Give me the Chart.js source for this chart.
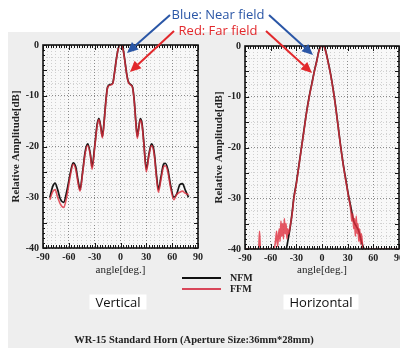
<!DOCTYPE html>
<html>
<head>
<meta charset="utf-8">
<script src="https://cdn.jsdelivr.net/npm/chart.js@4.4.0/dist/chart.umd.min.js"></script>
<style>
html, body { margin: 0; padding: 0; background: #fff; }
#wrap { position: relative; width: 400px; height: 350px; overflow: hidden; background: #fff; }
#scan { position: absolute; left: 8px; top: 32px; width: 392px; height: 316px; background: #eeeeee; }
canvas { position: absolute; }
.note { position: absolute; font-family: 'Open Sans', sans-serif; white-space: nowrap; transform: translate(-50%, -50%); line-height: 1; }
.serif { position: absolute; font-family: 'Liberation Serif', 'DejaVu Serif', serif; font-weight: bold; color: #222; white-space: nowrap; line-height: 1; }
.box { background: #fff; padding: 1px 6px; font-size: 13px; color: #111; }
.key { position: absolute; height: 2px; }
</style>
</head>
<body>
<div id="wrap">
  <div id="scan"></div>
  <canvas id="vert" width="205" height="250" style="left:0px;top:30px"></canvas>
  <canvas id="horz" width="210" height="250" style="left:200px;top:30px"></canvas>

  <div class="key" style="left:182px;top:277px;width:39px;background:#111"></div>
  <div class="key" style="left:182px;top:288px;width:39px;background:#d9475a"></div>
  <div class="serif" style="left:230px;top:273px;font-size:10px">NFM</div>
  <div class="serif" style="left:230px;top:284px;font-size:10px">FFM</div>

  <div class="note box" style="left:118px;top:302px">Vertical</div>
  <div class="note box" style="left:321px;top:302px">Horizontal</div>

  <div class="serif" style="left:194px;top:340px;font-size:10.5px;transform:translate(-50%,-50%)">WR-15 Standard Horn (Aperture Size:36mm*28mm)</div>

  <svg id="arrows" width="400" height="350" style="position:absolute;left:0;top:0"></svg>
  <div class="note" style="left:218px;top:14px;font-size:13px;color:#2a56a6">Blue: Near field</div>
  <div class="note" style="left:218px;top:30px;font-size:13px;color:#e2282c">Red: Far field</div>
</div>

<script>
// vertical cut (left panel)
var vAngles = [-82, -79, -76, -73, -70, -66, -62, -58, -55, -52, -49, -47, -44, -41, -38, -35, -33, -30, -27, -25, -23, -21, -19, -17, -15, -12, -9, -7, -5, -3, -1,
               1, 3, 5, 7, 9, 12, 14, 16, 18, 19.5, 21, 23, 25, 27, 30, 33, 36, 39, 42, 44, 47, 50, 52, 55, 58, 62, 65, 69, 72, 75, 79];
var vNfm = [-30, -28, -27.2, -28.5, -30.3, -31, -28.5, -25, -23.2, -24, -27, -28.5, -25, -21, -19.5, -21.5, -24, -20, -15.5, -14.5, -16, -18, -15, -11, -8.3, -7.8, -7.5, -5.5, -3, -1, 0,
            0, -0.8, -3, -5.5, -7.2, -7.8, -8.3, -11, -15.5, -18, -16.5, -14.5, -15.5, -19, -24.5, -21.5, -19.5, -21, -26, -28.5, -26, -23.5, -23.3, -24.5, -27.5, -30, -29.5, -27.5, -27.3, -28.5, -30];
var vFfm = [-30.5, -29, -28.5, -30, -31.3, -32, -29.5, -25.5, -23.5, -24.5, -27.5, -28.8, -25.3, -21.3, -19.8, -21.8, -24.5, -20.3, -15.8, -14.7, -16.3, -18.3, -15.2, -11.2, -8.4, -7.9, -7.6, -5.6, -3.1, -1, 0,
            0, -0.9, -3.1, -5.6, -7.3, -7.9, -8.4, -11.2, -15.8, -18.4, -16.8, -14.8, -15.8, -19.3, -25, -21.8, -19.8, -21.4, -26.5, -29, -26.5, -24, -23.8, -25, -28, -30.5, -29.5, -29, -28.8, -29.2, -29.5];

// horizontal cut (right panel)
var hNfmAngles = [-46, -42, -40, -37, -35, -33, -30, -27, -24, -21, -18, -15, -12, -9, -6, -4, -2, 0, 2, 4, 7, 10, 13, 16, 19, 22, 25, 28, 31, 34, 37, 40, 43, 46, 49];
var hNfm = [-40, -40, -38.5, -35.5, -33, -30, -27, -23.5, -20, -16.5, -13, -10, -7.5, -5, -2.8, -1.2, -0.2, 0, 0, -0.8, -3, -5.5, -8.5, -12, -16, -20, -23.5, -26.5, -29.5, -32, -34.5, -35.5, -36.5, -38.5, -40];
var hFfmAngles = [-90, -74, -73, -72, -56, -54, -53, -52, -50, -49, -48, -47, -46, -45, -44, -43, -42, -41, -40, -39, -37, -35, -33, -30, -27, -24, -21, -18, -15, -12, -9, -6, -4, -2, 0,
                  2, 4, 7, 10, 13, 16, 19, 22, 25, 28, 31, 33, 34, 35, 36, 37, 38, 39, 40, 41, 42, 43, 44, 45, 46, 48, 90];
var hFfm = [-40, -40, -36.5, -40, -40, -38, -36.5, -39.5, -36, -38.5, -34.5, -37.5, -35, -38, -34, -37, -35, -38, -36, -37, -35.3, -33.2, -30.2, -27.2, -23.6, -20.1, -16.6, -13.1, -10.1, -7.6, -5.1, -2.9, -1.3, -0.2, 0,
            0, -0.9, -3.1, -5.6, -8.6, -12.1, -16.1, -20.1, -23.6, -26.7, -29.7, -31.5, -33, -34.5, -33, -36, -34, -37.5, -33.5, -37, -35, -38.5, -36, -39, -37, -40, -40];

var xLabels = [-90, -60, -30, 0, 30, 60, 90];
var yLabels = [0, -10, -20, -30, -40];

function pts(xs, ys) {
	return xs.map(function(x, i) { return { x: x, y: ys[i] }; });
}

var framePlugin = {
	id: 'frame',
	beforeDatasetsDraw: function(chart) {
		var a = chart.chartArea, ctx = chart.ctx;
		ctx.save();
		ctx.globalCompositeOperation = 'destination-over';
		ctx.fillStyle = '#f8f8f8';
		ctx.fillRect(a.left, a.top, a.right - a.left, a.bottom - a.top);
		ctx.restore();
	},
	afterDatasetsDraw: function(chart) {
		var a = chart.chartArea, ctx = chart.ctx;
		var xs = chart.scales.x, ys = chart.scales.y;
		ctx.save();
		ctx.strokeStyle = '#151515';
		ctx.lineWidth = 1;
		ctx.beginPath();
		for (var v = -90; v <= 90; v += 3) {
			var px = Math.round(xs.getPixelForValue(v)) + 0.5;
			var len = (v % 30 === 0) ? 5 : 3;
			ctx.moveTo(px, a.top); ctx.lineTo(px, a.top + len);
			ctx.moveTo(px, a.bottom); ctx.lineTo(px, a.bottom - len);
		}
		for (var d = -40; d <= 0; d += 1) {
			var py = Math.round(ys.getPixelForValue(d)) + 0.5;
			var l2 = (d % 5 === 0) ? 4 : 2;
			ctx.moveTo(a.left, py); ctx.lineTo(a.left + l2, py);
			ctx.moveTo(a.right, py); ctx.lineTo(a.right - l2, py);
		}
		ctx.stroke();
		ctx.lineWidth = 1.6;
		ctx.strokeRect(a.left, a.top, a.right - a.left, a.bottom - a.top);
		ctx.restore();
	}
};

function drawPattern(id, nfm, ffm, box) {
	var ctx = document.getElementById(id).getContext('2d');
	var tickFont = { family: "'Liberation Serif', 'DejaVu Serif', serif", size: 10, weight: 'bold' };
	return new Chart(ctx, {
		type: 'line',
		data: {
			datasets: [
				{ label: 'NFM', data: nfm, borderColor: '#161616', borderWidth: 1.7, pointRadius: 0, cubicInterpolationMode: 'monotone', order: 2 },
				{ label: 'FFM', data: ffm, borderColor: 'rgba(222,45,60,0.8)', borderWidth: 1.6, pointRadius: 0, cubicInterpolationMode: 'monotone', order: 1 }
			]
		},
		options: {
			responsive: false,
			animation: false,
			events: [],
			layout: { padding: { left: 0, top: box.top, right: box.right, bottom: 0 } },
			plugins: { legend: { display: false }, tooltip: { enabled: false } },
			scales: {
				x: {
					type: 'linear', min: -90, max: 90,
					ticks: {
						stepSize: 5, autoSkip: false, maxRotation: 0, padding: 3, color: '#222', font: tickFont,
						callback: function(v) { return xLabels.indexOf(v) >= 0 ? String(v) : ''; }
					},
					grid: {
						drawTicks: false,
						color: function(c) { return (c.tick && c.tick.value % 30 === 0) ? '#8a8a8a' : '#cfcfcf'; }
					},
					border: { display: false, dash: [1, 2] },
					title: { display: true, text: 'angle[deg.]', color: '#222', padding: { top: 0, bottom: 3 },
						font: { family: "'Liberation Serif', 'DejaVu Serif', serif", size: 11 } },
					afterFit: function(s) { s.height = box.xh; s.paddingLeft = 0; s.paddingRight = 0; }
				},
				y: {
					min: -40, max: 0,
					ticks: {
						stepSize: 2.5, autoSkip: false, padding: 4, color: '#222', font: tickFont,
						callback: function(v) { return yLabels.indexOf(v) >= 0 ? String(v) : ''; }
					},
					grid: {
						drawTicks: false,
						color: function(c) { return (c.tick && Math.abs(c.tick.value % 10) < 0.01) ? '#8a8a8a' : '#d2d2d2'; }
					},
					border: { display: false, dash: [1, 2] },
					title: { display: true, text: 'Relative Amplitude[dB]', color: '#222', padding: { top: box.tp, bottom: 0 },
						font: { family: "'Liberation Serif', 'DejaVu Serif', serif", size: 11, weight: 'bold' } },
					afterFit: function(s) { s.width = box.yw; s.paddingTop = 0; s.paddingBottom = 0; }
				}
			}
		},
		plugins: [framePlugin]
	});
}

drawPattern('vert', pts(vAngles, vNfm), pts(vAngles, vFfm), { top: 15, right: 7, xh: 32, yw: 43, tp: 10 });
drawPattern('horz', pts(hNfmAngles, hNfm), pts(hFfmAngles, hFfm), { top: 16, right: 11, xh: 31, yw: 45, tp: 13 });

// annotation arrows
function arrow(svg, x1, y1, x2, y2, col) {
	var ns = 'http://www.w3.org/2000/svg';
	var dx = x2 - x1, dy = y2 - y1, L = Math.sqrt(dx * dx + dy * dy);
	var ux = dx / L, uy = dy / L, hl = 11, hw = 5;
	var bx = x2 - ux * hl, by = y2 - uy * hl;
	var line = document.createElementNS(ns, 'line');
	line.setAttribute('x1', x1); line.setAttribute('y1', y1);
	line.setAttribute('x2', bx); line.setAttribute('y2', by);
	line.setAttribute('stroke', col); line.setAttribute('stroke-width', 2);
	svg.appendChild(line);
	var head = document.createElementNS(ns, 'polygon');
	head.setAttribute('points', x2 + ',' + y2 + ' ' + (bx - uy * hw) + ',' + (by + ux * hw) + ' ' + (bx + uy * hw) + ',' + (by - ux * hw));
	head.setAttribute('fill', col);
	svg.appendChild(head);
}
var svg = document.getElementById('arrows');
arrow(svg, 170, 15, 127, 53, '#2a56a6');
arrow(svg, 269, 15, 313, 55, '#2a56a6');
arrow(svg, 174, 31, 130, 72, '#e2282c');
arrow(svg, 266, 31, 312, 73, '#e2282c');
</script>
</body>
</html>
